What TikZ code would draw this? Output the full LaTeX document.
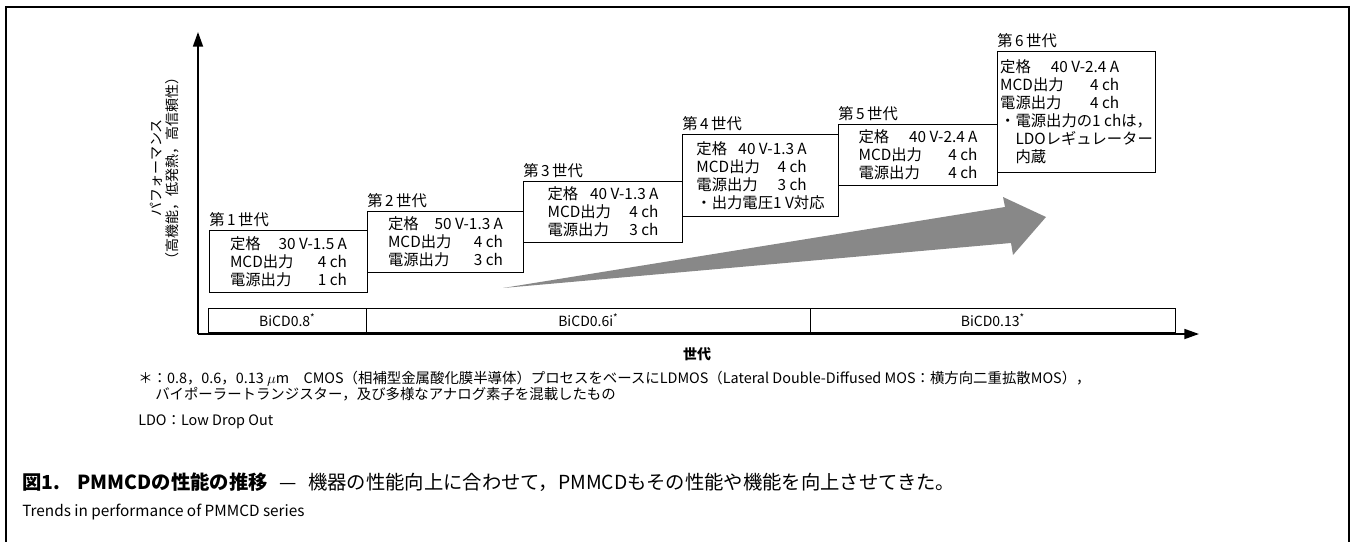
\documentclass[tikz,border=0pt]{standalone}
\usepackage{fontspec}
\setmainfont{Noto Sans CJK JP}
\usetikzlibrary{arrows.meta}
\definecolor{arrowgray}{RGB}{136,136,136}
\newcommand\pxu{0.75pt}
\newlength\rowwd
\newcommand\specrows[4]{\settowidth\rowwd{定格\hspace{#1}#2}\global\rowwd=\rowwd
定格\hspace{#1}#2\\\makebox[\rowwd][l]{MCD出力\hfill#3}\\\makebox[\rowwd][l]{電源出力\hfill#4}}
\begin{document}
\begin{tikzpicture}[x=0.75pt,y=-0.75pt,
  genbox/.style={draw, line width=0.8pt, anchor=north west, inner sep=0pt, font=\fontsize{11.5}{13.5}\selectfont, align=left},
  genlabel/.style={anchor=south west, inner sep=0pt, font=\fontsize{11.5}{13.5}\selectfont},
  axisline/.style={line width=1.3pt, -{Triangle[length=11pt,width=7.5pt]}},
  seg/.style={draw, line width=0.5pt, anchor=north west, inner sep=0pt, minimum height=24*\pxu, font=\fontsize{10.5}{12}\selectfont},
  note/.style={anchor=base west, inner sep=0pt, font=\fontsize{10.8}{12}\selectfont},
]
\useasboundingbox (0,0) rectangle (1353,542);
\draw[line width=1.3pt] (6,542) -- (6,7) -- (1349,7) -- (1349,542);

% axes
\coordinate (O) at (198,334);
\coordinate (ytip) at (198,32);
\coordinate (xtip) at (1199,334);
\draw[axisline] (O) -- (ytip);
\draw[axisline] (O) -- (xtip);

% process bar
\node[seg, minimum width=158*\pxu] (s1) at (208,308) {BiCD0.8\textsuperscript{*}};
\node[seg, minimum width=444*\pxu] (s2) at (366,308) {BiCD0.6i\textsuperscript{*}};
\node[seg, minimum width=365*\pxu] (s3) at (810,308) {BiCD0.13\textsuperscript{*}};

% y label
\node[rotate=90, align=center, font=\fontsize{10.5}{12}\selectfont] (ylab) at (165,168) {パフォーマンス\\（高機能，低発熱，高信頼性）};

% trend arrow
\fill[arrowgray] (503,288) -- (1005,207) -- (1003,197) -- (1046,217) -- (1013,255) -- (1011,243) -- cycle;

% generation boxes
\node[genbox, minimum width=158*\pxu, minimum height=62*\pxu] (b1) at (209,230) {\specrows{13.5pt}{30 V-1.5 A}{4 ch}{1 ch}};
\node[genbox, minimum width=156*\pxu, minimum height=61*\pxu] (b2) at (367,211) {\specrows{12pt}{50 V-1.3 A}{4 ch}{3 ch}};
\node[genbox, minimum width=159*\pxu, minimum height=61*\pxu] (b3) at (523,181) {\specrows{9pt}{40 V-1.3 A}{4 ch}{3 ch}};
\node[genbox, minimum width=156*\pxu, minimum height=82*\pxu] (b4) at (682,134) {\specrows{8.5pt}{40 V-1.3 A}{4 ch}{3 ch}\\・出力電圧1 V対応};
\node[genbox, minimum width=159*\pxu, minimum height=61*\pxu] (b5) at (838,124) {\specrows{15pt}{40 V-2.4 A}{4 ch}{4 ch}};
\node[genbox, minimum width=158*\pxu, minimum height=121*\pxu] (b6) at (997,51) {\specrows{15pt}{40 V-2.4 A}{4 ch}{4 ch}\\・電源出力の1 chは，\\\hspace{1em}LDOレギュレーター\\\hspace{1em}内蔵};

\node[genlabel] (g1) at ([yshift=3*\pxu]b1.north west) {第\,1\,世代};
\node[genlabel] (g2) at ([yshift=3*\pxu]b2.north west) {第\,2\,世代};
\node[genlabel] (g3) at ([yshift=3*\pxu]b3.north west) {第\,3\,世代};
\node[genlabel] (g4) at ([yshift=3*\pxu]b4.north west) {第\,4\,世代};
\node[genlabel] (g5) at ([yshift=3*\pxu]b5.north west) {第\,5\,世代};
\node[genlabel] (g6) at ([yshift=3*\pxu]b6.north west) {第\,6\,世代};

% x label
\node[font=\fontsize{10.5}{12}\selectfont\bfseries] (xlab) at (697,354) {世代};

% notes
\node[note] (n1) at (138,383) {＊：0.8，0.6，0.13 $\mu$m　CMOS（相補型金属酸化膜半導体）プロセスをベースにLDMOS（Lateral Double-Diffused MOS：横方向二重拡散MOS），};
\node[note] (n2) at (155,399) {バイポーラートランジスター，及び多様なアナログ素子を混載したもの};
\node[note] (n3) at (138,425) {LDO：Low Drop Out};

% caption
\node[anchor=base west, inner sep=0pt, font=\fontsize{14.5}{16}\selectfont] (cap) at (22,489) {\textbf{図1.\hspace{0.9em}PMMCDの性能の推移}\hspace{0.6em}—\hspace{0.6em}機器の性能向上に合わせて，PMMCDもその性能や機能を向上させてきた。};
\node[anchor=base west, inner sep=0pt, font=\fontsize{11.5}{13}\selectfont] (cap2) at (22,516) {Trends in performance of PMMCD series};
\end{tikzpicture}
\end{document}
